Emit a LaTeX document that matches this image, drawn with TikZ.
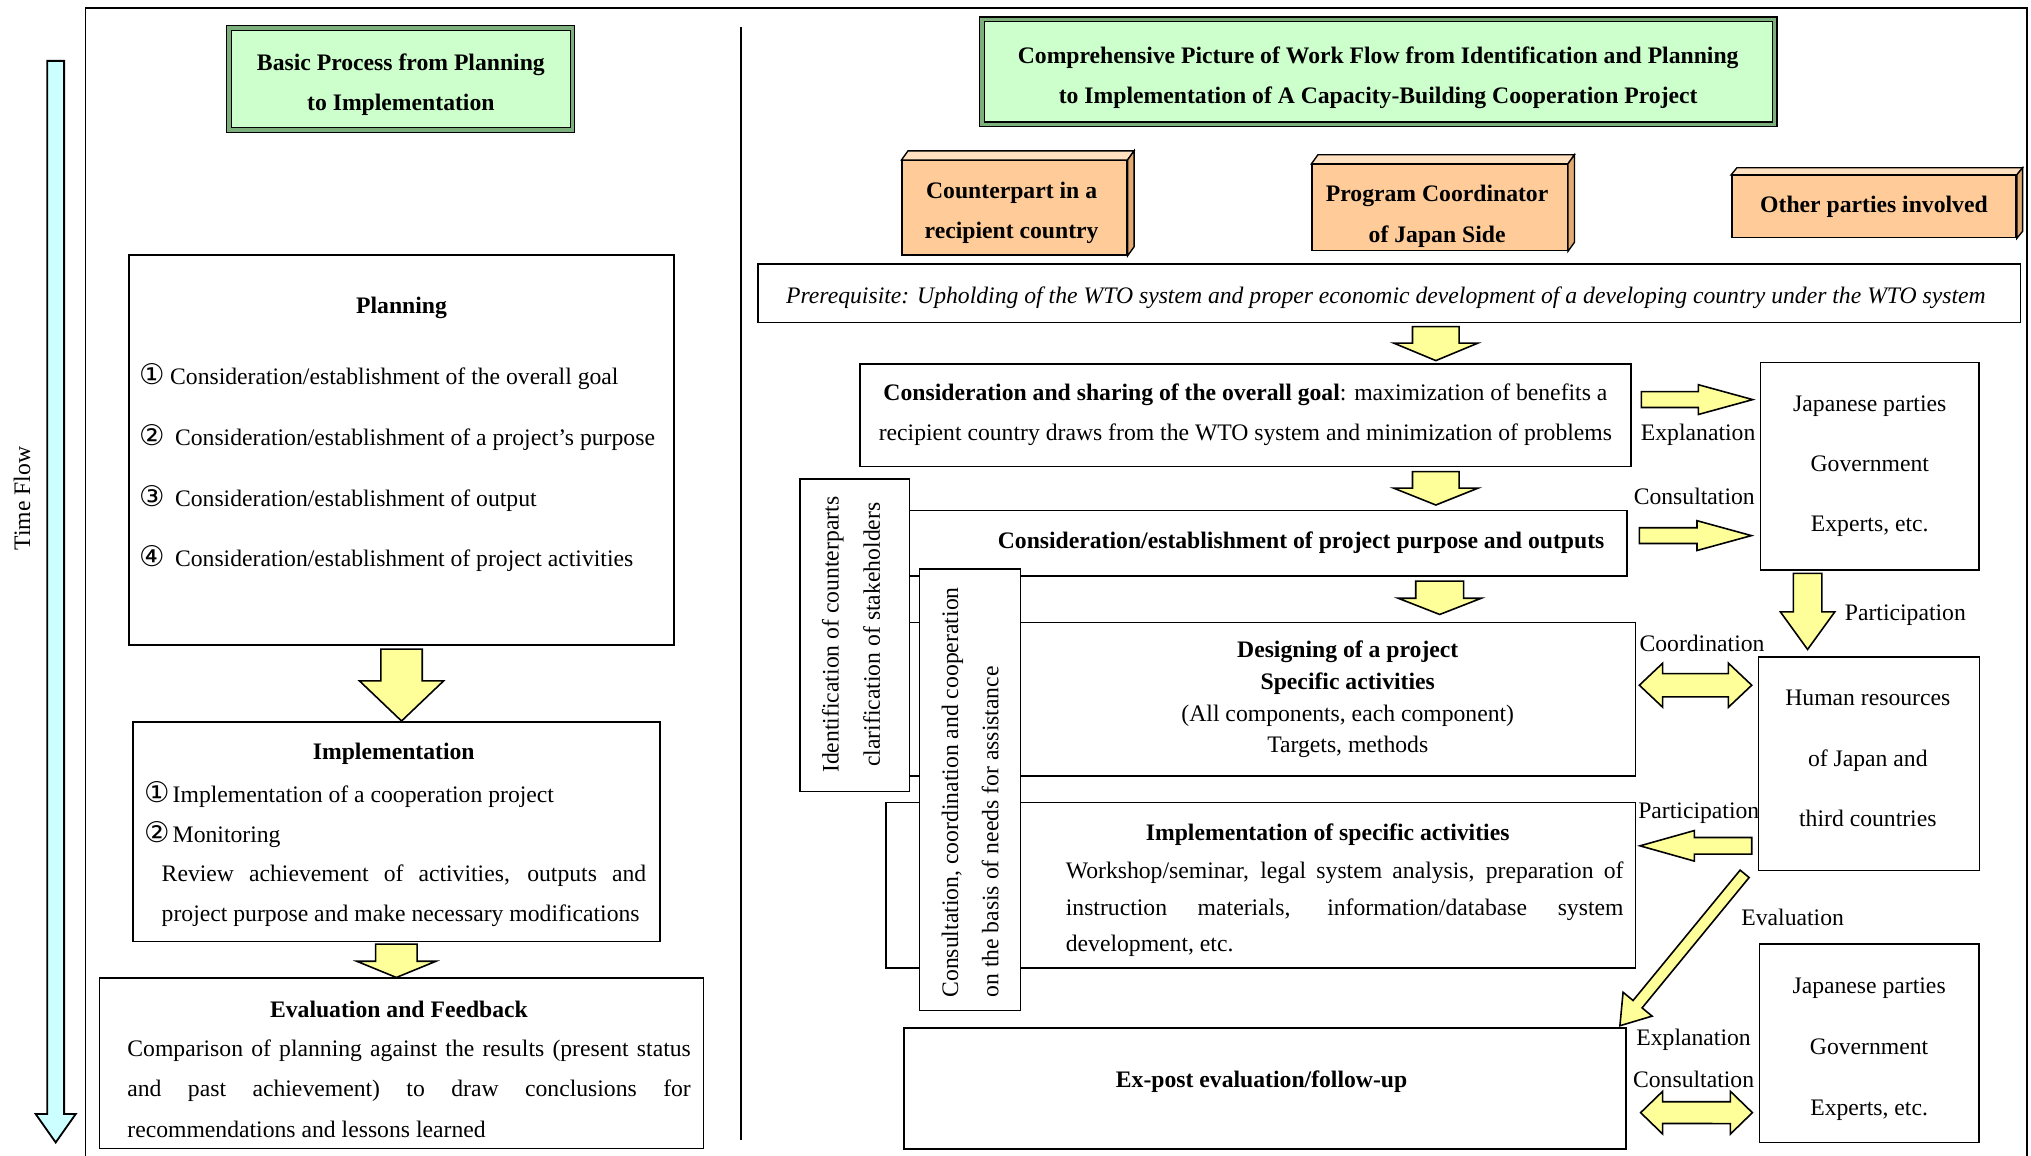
\documentclass[tikz,border=0pt]{standalone}
\usepackage{fontspec}
\setmainfont{Liberation Serif}
\newfontfamily\circfont{DejaVu Sans}
\usetikzlibrary{calc}

\definecolor{titlegreen}{RGB}{204,255,204}
\definecolor{bevelgreen}{RGB}{125,175,125}
\definecolor{flowcyan}{RGB}{204,255,255}
\definecolor{arrowyellow}{RGB}{255,255,153}
\definecolor{peach}{RGB}{255,204,153}
\definecolor{peachtop}{RGB}{255,224,192}
\definecolor{peachside}{RGB}{226,170,115}

% circled number, set in a box of given width
\newcommand{\circnum}[2]{\makebox[#1][l]{\fontsize{12.5}{12.5}\circfont #2}}

% block arrow: style, from, to, shaft half width, head half width, head length
\newcommand{\blockarrow}[6]{%
  \path #2 coordinate (ba-s) #3 coordinate (ba-t);
  \coordinate (ba-h) at ($(ba-t)!#6!(ba-s)$);
  \draw[#1] ($(ba-s)!#4!90:(ba-t)$) -- ($(ba-h)!#4!90:(ba-t)$) -- ($(ba-h)!#5!90:(ba-t)$)
    -- (ba-t) -- ($(ba-h)!#5!-90:(ba-t)$) -- ($(ba-h)!#4!-90:(ba-t)$)
    -- ($(ba-s)!#4!-90:(ba-t)$) -- cycle;
}
% same with a head at both ends
\newcommand{\dblockarrow}[6]{%
  \path #2 coordinate (ba-s) #3 coordinate (ba-t);
  \coordinate (ba-h) at ($(ba-t)!#6!(ba-s)$);
  \coordinate (ba-g) at ($(ba-s)!#6!(ba-t)$);
  \draw[#1] (ba-s) -- ($(ba-g)!#5!90:(ba-t)$) -- ($(ba-g)!#4!90:(ba-t)$)
    -- ($(ba-h)!#4!90:(ba-t)$) -- ($(ba-h)!#5!90:(ba-t)$) -- (ba-t)
    -- ($(ba-h)!#5!-90:(ba-t)$) -- ($(ba-h)!#4!-90:(ba-t)$)
    -- ($(ba-g)!#4!-90:(ba-t)$) -- ($(ba-g)!#5!-90:(ba-t)$) -- cycle;
}

\begin{document}
\begin{tikzpicture}[
  every node/.style={font=\fontsize{10.4}{17.6}\selectfont},
  box/.style={draw, fill=white, line width=0.7pt},
  titlebox/.style={draw=black, line width=0.5pt, double=bevelgreen, double distance=1.6pt, fill=titlegreen},
  cube/.style={draw, fill=peach, line width=0.6pt},
  yarrow/.style={draw, fill=arrowyellow, line width=0.7pt, line join=miter},
  flowarrow/.style={draw, fill=flowcyan, line width=0.8pt, line join=miter},
  boldtxt/.style={font=\fontsize{10.4}{17.6}\selectfont\bfseries}]
\tikzstyle{every node}+=[inner sep=0pt]
\useasboundingbox (0,0) rectangle (31.36,-17.84);
\draw[line width=0.8pt] (1.32,-0.12) rectangle (31.3,-18.2);
\draw[line width=0.6pt] (11.44,-0.42) -- (11.44,-17.6);
% time flow
\coordinate (tf-top) at (0.86,-0.94);
\coordinate (tf-end) at (0.86,-17.64);
\blockarrow{flowarrow}{(tf-top)}{(tf-end)}{0.13cm}{0.31cm}{0.44cm}
\node[rotate=90] (timeflow) at (0.34,-7.7) {Time Flow};
% left column
\node[titlebox, minimum width=5.3cm, minimum height=1.57cm] (basic) at (6.19,-1.22) {};
\node[align=center, boldtxt] (basictxt) at (6.19,-1.31) {Basic Process from Planning\\to Implementation};
\node[box, minimum width=8.41cm, minimum height=6.02cm] (plan) at (6.2,-6.95) {};
\node[boldtxt] (plantitle) at (6.2,-4.76) {Planning};
\node[anchor=west] (plan1) at (2.14,-5.81) {\circnum{0.48cm}{①}Consideration/establishment of the overall goal};
\node[anchor=west] (plan2) at (2.14,-6.76) {\circnum{0.556cm}{②}Consideration/establishment of a project’s purpose};
\node[anchor=west] (plan3) at (2.14,-7.69) {\circnum{0.556cm}{③}Consideration/establishment of output};
\node[anchor=west] (plan4) at (2.14,-8.62) {\circnum{0.556cm}{④}Consideration/establishment of project activities};
\node[box, minimum width=8.14cm, minimum height=3.39cm] (impl) at (6.12,-12.84) {};
\node[boldtxt] (impltitle) at (6.08,-11.64) {Implementation};
\node[anchor=west] (impl1) at (2.22,-12.26) {\circnum{0.44cm}{①}Implementation of a cooperation project};
\node[anchor=west] (impl2) at (2.22,-12.88) {\circnum{0.44cm}{②}Monitoring};
\node[anchor=west, text width=7.48cm, align=justify] (impl3) at (2.49,-13.83) {Review achievement of activities, outputs and\linebreak project purpose and make necessary modifications};
\node[box, minimum width=9.33cm, minimum height=2.63cm] (eval) at (6.2,-16.42) {};
\node[boldtxt] (evaltitle) at (6.16,-15.58) {Evaluation and Feedback};
\node[anchor=west, text width=8.7cm, align=justify, font=\fontsize{10.4}{17.9}\selectfont] (evaltxt) at (1.96,-16.81) {Comparison of planning against the results (present status\linebreak and past achievement) to draw conclusions for\linebreak recommendations and lessons learned};
% right column
\node[titlebox, minimum width=12.24cm, minimum height=1.62cm] (comp) at (21.28,-1.11) {};
\node[align=center, boldtxt] (comptxt) at (21.28,-1.2) {Comprehensive Picture of Work Flow from Identification and Planning\\to Implementation of A Capacity-Building Cooperation Project};
\node[cube, minimum width=3.47cm, minimum height=1.46cm] (cp) at (15.665,-3.21) {};
\draw[fill=peachtop, line width=0.6pt] (cp.north west) -- ++(0.1,0.14) -- ([shift={(0.1,0.14)}]cp.north east) -- (cp.north east) -- cycle;
\draw[fill=peachside, line width=0.6pt] (cp.north east) -- ++(0.1,0.14) -- ([shift={(0.1,0.14)}]cp.south east) -- (cp.south east) -- cycle;
\node[align=center, boldtxt] (cptxt) at (15.62,-3.28) {Counterpart in a\\recipient country};
\node[cube, minimum width=3.94cm, minimum height=1.33cm] (pc) at (22.23,-3.205) {};
\draw[fill=peachtop, line width=0.6pt] (pc.north west) -- ++(0.1,0.14) -- ([shift={(0.1,0.14)}]pc.north east) -- (pc.north east) -- cycle;
\draw[fill=peachside, line width=0.6pt] (pc.north east) -- ++(0.1,0.14) -- ([shift={(0.1,0.14)}]pc.south east) -- (pc.south east) -- cycle;
\node[align=center, boldtxt] (pctxt) at (22.19,-3.34) {Program Coordinator\\of Japan Side};
\node[cube, minimum width=4.39cm, minimum height=0.96cm, boldtxt] (op) at (28.935,-3.19) {Other parties involved};
\draw[fill=peachtop, line width=0.6pt] (op.north west) -- ++(0.09,0.11) -- ([shift={(0.09,0.11)}]op.north east) -- (op.north east) -- cycle;
\draw[fill=peachside, line width=0.6pt] (op.north east) -- ++(0.09,0.11) -- ([shift={(0.09,0.11)}]op.south east) -- (op.south east) -- cycle;
\node[box, minimum width=19.49cm, minimum height=0.9cm] (prereq) at (21.45,-4.53) {};
\node[font=\fontsize{10.4}{12}\selectfont\itshape] (prereqtxt) at (21.4,-4.6) {Prerequisite: Upholding of the WTO system and proper economic development of a developing country under the WTO system};
\node[box, minimum width=11.9cm, minimum height=1.58cm, align=center] (goal) at (19.23,-6.41) {\textbf{Consideration and sharing of the overall goal}: maximization of benefits a\\recipient country draws from the WTO system and minimization of problems};
\node[box, minimum width=12.32cm, minimum height=1.01cm] (purp) at (18.96,-8.385) {};
\node[boldtxt] (purptxt) at (20.09,-8.38) {Consideration/establishment of project purpose and outputs};
\node[box, minimum width=12.45cm, minimum height=2.37cm] (design) at (19.03,-10.795) {};
\node[align=center, font=\fontsize{10.4}{13.9}\selectfont] (designtxt) at (20.81,-10.8) {\textbf{Designing of a project}\\\textbf{Specific activities}\\(All components, each component)\\Targets, methods};
\node[box, minimum width=1.69cm, minimum height=4.82cm] (ident) at (13.195,-9.81) {};
\node[rotate=90, align=center, font=\fontsize{10.4}{18.2}\selectfont] (identtxt) at (13.14,-9.8) {Identification of counterparts\\clarification of stakeholders};
\node[box, minimum width=11.57cm, minimum height=2.56cm] (act) at (19.465,-13.67) {};
\node[boldtxt] (acttitle) at (20.5,-12.89) {Implementation of specific activities};
\node[anchor=west, text width=8.61cm, align=justify, font=\fontsize{10.4}{16}\selectfont] (acttxt) at (16.45,-14.04) {Workshop/seminar, legal system analysis, preparation of\linebreak instruction materials, information/database system\linebreak development, etc.};
\node[box, minimum width=1.56cm, minimum height=6.81cm] (consult) at (14.98,-12.195) {};
\node[rotate=90, anchor=west, align=left] (consulttxt) at (14.98,-15.41) {Consultation, coordination and cooperation\\on the basis of needs for assistance};
\node[box, minimum width=11.15cm, minimum height=1.87cm] (expost) at (19.53,-16.81) {};
\node[boldtxt] (exposttxt) at (19.48,-16.7) {Ex-post evaluation/follow-up};
\node[box, minimum width=3.37cm, minimum height=3.21cm, align=center, font=\fontsize{10.4}{26.4}\selectfont] (jp1) at (28.87,-7.2) {Japanese parties\\Government\\Experts, etc.};
\node[box, minimum width=3.41cm, minimum height=3.3cm] (hr) at (28.86,-11.79) {};
\node[align=center, font=\fontsize{10.4}{26.7}\selectfont] (hrtxt) at (28.84,-11.71) {Human resources\\of Japan and\\third countries};
\node[box, minimum width=3.39cm, minimum height=3.06cm] (jp2) at (28.86,-16.11) {};
\node[align=center, font=\fontsize{10.4}{26.7}\selectfont] (jp2txt) at (28.86,-16.2) {Japanese parties\\Government\\Experts, etc.};
% arrows
\blockarrow{yarrow}{([yshift=-0.05cm]plan.south)}{(plan.south |- impl.north)}{0.32cm}{0.65cm}{0.62cm}
\blockarrow{yarrow}{([yshift=-0.03cm]impl.south)}{(impl.south |- eval.north)}{0.32cm}{0.61cm}{0.25cm}
\blockarrow{yarrow}{([xshift=0.72cm,yshift=-0.05cm]prereq.south)}{([xshift=2.94cm,yshift=0.04cm]goal.north)}{0.36cm}{0.65cm}{0.27cm}
\blockarrow{yarrow}{([xshift=2.94cm,yshift=-0.07cm]goal.south)}{([xshift=3.21cm,yshift=0.07cm]purp.north)}{0.36cm}{0.65cm}{0.26cm}
\blockarrow{yarrow}{([xshift=3.27cm,yshift=-0.07cm]purp.south)}{([xshift=3.2cm,yshift=0.11cm]design.north)}{0.37cm}{0.64cm}{0.25cm}
\blockarrow{yarrow}{([xshift=0.15cm,yshift=0.24cm]goal.east)}{([xshift=-0.11cm,yshift=1.03cm]jp1.west)}{0.122cm}{0.23cm}{0.84cm}
\blockarrow{yarrow}{([xshift=0.18cm,yshift=0.115cm]purp.east)}{([xshift=-0.13cm,yshift=-1.07cm]jp1.west)}{0.122cm}{0.23cm}{0.84cm}
\blockarrow{yarrow}{([xshift=-0.96cm,yshift=-0.035cm]jp1.south)}{([xshift=-0.95cm,yshift=0.1cm]hr.north)}{0.22cm}{0.42cm}{0.58cm}
\dblockarrow{yarrow}{([xshift=0.045cm,yshift=0.215cm]design.east)}{([xshift=-0.095cm,yshift=1.21cm]hr.west)}{0.18cm}{0.34cm}{0.36cm}
\blockarrow{yarrow}{([xshift=-0.095cm,yshift=-1.27cm]hr.west)}{([xshift=0.06cm,yshift=0.61cm]act.east)}{0.128cm}{0.236cm}{0.84cm}
\blockarrow{yarrow}{([xshift=-0.205cm,yshift=-0.04cm]hr.south west)}{([xshift=-0.105cm,yshift=0.025cm]expost.north east)}{0.09cm}{0.29cm}{0.43cm}
\dblockarrow{yarrow}{([xshift=0.215cm,yshift=-0.37cm]expost.east)}{([xshift=-0.095cm,yshift=-1.07cm]jp2.west)}{0.168cm}{0.33cm}{0.34cm}
% arrow labels
\node (lexpl) at (26.22,-6.72) {Explanation};
\node (lcons) at (26.16,-7.66) {Consultation};
\node (lpart) at (29.42,-9.5) {Participation};
\node (lcoord) at (26.28,-9.93) {Coordination};
\node (lpart2) at (26.23,-12.56) {Participation};
\node (leval) at (27.68,-14.17) {Evaluation};
\node (lexpl2) at (26.15,-16.05) {Explanation};
\node (lcons2) at (26.15,-16.66) {Consultation};
\end{tikzpicture}
\end{document}
